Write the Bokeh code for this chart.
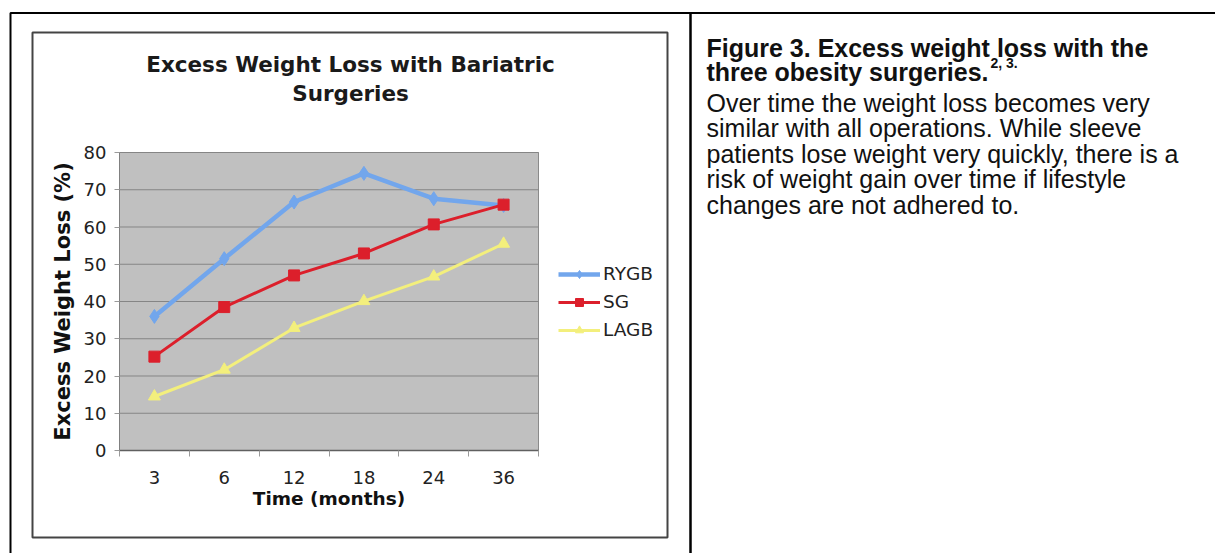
from bokeh.plotting import figure
from bokeh.models import (FixedTicker, Label, BoxAnnotation, Legend, LegendItem,
                          Range1d, LinearAxis)
from bokeh.embed import file_html
from bokeh.resources import INLINE

# ---- data ----
months = ["3", "6", "12", "18", "24", "36"]
rygb = [36.0, 51.5, 66.7, 74.4, 67.6, 65.8]
sg = [25.2, 38.5, 47.0, 52.9, 60.7, 66.0]
lagb = [14.5, 21.7, 32.9, 40.1, 46.7, 55.5]
y_ticks = [0, 10, 20, 30, 40, 50, 60, 70, 80]

chart_title = ["Excess Weight Loss with Bariatric", "Surgeries"]
caption_title = ["Figure 3. Excess weight loss with the", "three obesity surgeries."]
caption_sup = "2, 3."
caption_body = [
    "Over time the weight loss becomes very",
    "similar with all operations. While sleeve",
    "patients lose weight very quickly, there is a",
    "risk of weight gain over time if lifestyle",
    "changes are not adhered to.",
]

n = len(months)
ymax = y_ticks[-1]
xpos = [i + 0.5 for i in range(n)]

# ---- geometry (page px) ----
W, H = 1215, 553
PX0, PX1 = 119, 538      # plot area left / right
PY0, PY1 = 450, 152      # plot area bottom (y=0) / top (y=max)
ux = (PX1 - PX0) / n
uy = (PY0 - PY1) / ymax


def dx(px):
    return (px - PX0) / ux


def dy(py):
    return (PY0 - py) / uy


p = figure(width=W, height=H,
           x_range=Range1d(dx(0), dx(W)), y_range=Range1d(dy(H), dy(0)),
           x_axis_type=None, y_axis_type=None,
           output_backend="svg", toolbar_location=None, min_border=0)
p.background_fill_color = "white"
p.border_fill_color = "white"
p.outline_line_color = None

# plot area background
p.add_layout(BoxAnnotation(left=0, right=n, bottom=0, top=ymax,
                           fill_color="#c0c0c0", fill_alpha=1,
                           line_color="#8a8a8a", line_alpha=1, line_width=1,
                           level="underlay"))
# horizontal grid lines
p.segment(x0=[0] * len(y_ticks), y0=y_ticks, x1=[n] * len(y_ticks), y1=y_ticks,
          line_color="#858585", line_width=1)

# axes drawn at the plot-area edges
xa = LinearAxis(fixed_location=0, bounds=(0, n))
xa.ticker = FixedTicker(ticks=xpos, minor_ticks=list(range(n + 1)))
xa.major_label_overrides = {x: m for x, m in zip(xpos, months)}
xa.major_tick_line_color = None
xa.major_tick_out = 0
xa.major_tick_in = 0
xa.minor_tick_line_color = "#9a9a9a"
xa.minor_tick_out = 6
xa.minor_tick_in = 0
xa.axis_line_color = "#606060"
xa.axis_line_width = 1.5
xa.major_label_standoff = 14
xa.major_label_text_font = "DejaVu Sans"
xa.major_label_text_font_size = "18px"
xa.major_label_text_color = "#222222"
xa.axis_label = "Time (months)"
xa.axis_label_text_font = "DejaVu Sans"
xa.axis_label_text_font_style = "bold"
xa.axis_label_text_font_size = "18.5px"
xa.axis_label_text_color = "#111111"
xa.axis_label_standoff = 1
p.add_layout(xa, "below")

ya = LinearAxis(fixed_location=0, bounds=(0, ymax))
ya.ticker = FixedTicker(ticks=y_ticks)
ya.minor_tick_line_color = None
ya.major_tick_line_color = "#9a9a9a"
ya.major_tick_out = 5
ya.major_tick_in = 0
ya.axis_line_color = "#808080"
ya.major_label_standoff = 8
ya.major_label_text_font = "DejaVu Sans"
ya.major_label_text_font_size = "18px"
ya.major_label_text_color = "#222222"
ya.axis_label = "Excess Weight Loss (%)"
ya.axis_label_text_font = "DejaVu Sans"
ya.axis_label_text_font_style = "bold"
ya.axis_label_text_font_size = "21px"
ya.axis_label_text_color = "#111111"
ya.axis_label_standoff = 6
p.add_layout(ya, "left")

# series
BLUE, RED, YEL = "#72a6ec", "#dc1f2b", "#f3ef7c"
l1 = p.line(xpos, rygb, line_color=BLUE, line_width=4.5)
m1 = p.scatter(xpos, rygb, marker="diamond", size=14, fill_color=BLUE, line_color=BLUE)
l2 = p.line(xpos, sg, line_color=RED, line_width=3)
m2 = p.scatter(xpos, sg, marker="square", size=11, fill_color=RED, line_color=RED)
l3 = p.line(xpos, lagb, line_color=YEL, line_width=3)
m3 = p.scatter(xpos, lagb, marker="triangle", size=12, fill_color=YEL, line_color=YEL)

legend = Legend(items=[LegendItem(label="RYGB", renderers=[l1, m1]),
                       LegendItem(label="SG", renderers=[l2, m2]),
                       LegendItem(label="LAGB", renderers=[l3, m3])],
                location=(558, H - 340), border_line_color=None,
                background_fill_alpha=0, padding=0, margin=0, spacing=7,
                glyph_width=42, glyph_height=20, label_height=20, label_standoff=3,
                label_text_font="DejaVu Sans", label_text_font_size="18.5px",
                label_text_color="#222222")
p.add_layout(legend)

# table borders and chart box
for left, right in [(10, 690), (690, 1400)]:
    p.add_layout(BoxAnnotation(left=dx(left), right=dx(right), top=dy(12.5), bottom=dy(700),
                               fill_alpha=0, line_color="black", line_alpha=1,
                               line_width=2))
p.add_layout(BoxAnnotation(left=dx(32), right=dx(667), top=dy(32), bottom=dy(537),
                           fill_alpha=0, line_color="#444444", line_alpha=1,
                           line_width=2))

# chart title
for i, t in enumerate(chart_title):
    p.add_layout(Label(x=dx(350), y=dy(64 + 28.5 * i),
                       text=t, text_align="center", text_baseline="middle",
                       text_font="DejaVu Sans", text_font_style="bold",
                       text_font_size="21.5px", text_color="#1a1a1a"))

# caption
CAP = "25px"
for i, t in enumerate(caption_title):
    p.add_layout(Label(x=dx(706), y=dy(47 + 24.5 * i),
                       text=t, text_align="left", text_baseline="middle",
                       text_font="Liberation Sans", text_font_style="bold",
                       text_font_size=CAP, text_color="#111111"))
p.add_layout(Label(x=dx(990), y=dy(62),
                   text=caption_sup, text_align="left", text_baseline="middle",
                   text_font="Liberation Sans", text_font_style="bold",
                   text_font_size="14px", text_color="#111111"))
for i, t in enumerate(caption_body):
    p.add_layout(Label(x=dx(706), y=dy(102 + 25.5 * i),
                       text=t, text_align="left", text_baseline="middle",
                       text_font="Liberation Sans", text_font_size=CAP,
                       text_color="#111111"))

open("out.html", "w").write(file_html(p, INLINE))
